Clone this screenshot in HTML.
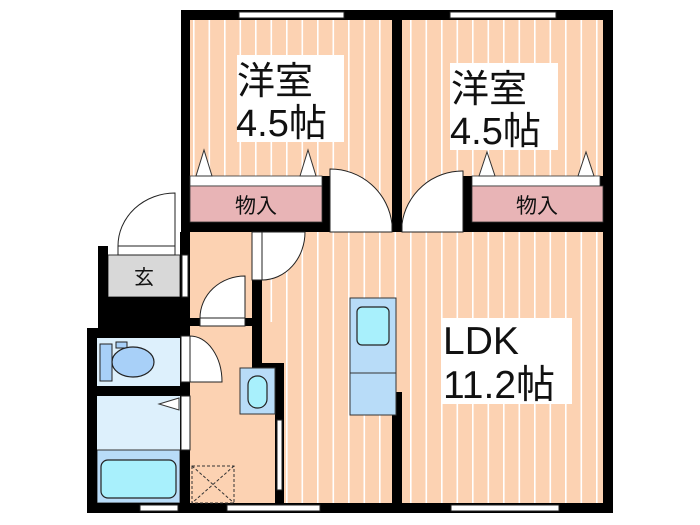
<!DOCTYPE html>
<html><head><meta charset="utf-8"><style>
html,body{margin:0;padding:0;background:#fff;width:700px;height:525px;overflow:hidden}
svg{display:block}
text{font-family:"Liberation Sans","Noto Sans CJK JP",sans-serif;fill:#111}
</style></head><body>
<svg width="700" height="525" viewBox="0 0 700 525" xmlns="http://www.w3.org/2000/svg">
<defs>
<pattern id="fl" width="15.5" height="10" patternUnits="userSpaceOnUse">
<rect width="15.5" height="10" fill="#fcd2b2"/><rect x="7" width="1.6" height="10" fill="#fff"/>
</pattern>
</defs>
<rect x="190" y="20" width="202" height="212" fill="url(#fl)"/>
<rect x="402" y="20" width="201" height="212" fill="url(#fl)"/>
<rect x="262" y="232" width="341" height="271" fill="url(#fl)"/>
<rect x="190" y="232" width="62" height="90" fill="#fcd2b2"/>
<rect x="190" y="322" width="85" height="181" fill="#fcd2b2"/>
<rect x="108" y="255" width="72" height="42" fill="#d8d8d8" stroke="#333" stroke-width="1"/>
<rect x="97" y="338" width="83" height="48" fill="#ddf0fc"/>
<rect x="97" y="396" width="83" height="54" fill="#ddf0fc"/>
<rect x="97" y="450" width="83" height="53" fill="#b8dcf8" stroke="#333" stroke-width="1"/>
<rect x="101" y="460" width="75" height="38" rx="7" fill="#a8f0fc" stroke="#222" stroke-width="1.2"/>
<rect x="100" y="344" width="12" height="37" fill="#a8d0f8" stroke="#222" stroke-width="1"/>
<rect x="116" y="342" width="11" height="6" fill="#a8d0f8" stroke="#222" stroke-width="1"/>
<ellipse cx="133" cy="362" rx="21" ry="15" fill="#a8d0f8" stroke="#222" stroke-width="1.2"/>
<polygon points="179,398 159,404 179,410" fill="#fff" stroke="#333" stroke-width="1"/>
<g fill="#000">
<rect x="181" y="10" width="432" height="10"/>
<rect x="181" y="10" width="9" height="222"/>
<rect x="392" y="10" width="10" height="222"/>
<rect x="603" y="10" width="10" height="503"/>
<rect x="181" y="222" width="149" height="10"/>
<rect x="463" y="222" width="150" height="10"/>
<rect x="322" y="176" width="8" height="56"/>
<rect x="463" y="176" width="9" height="56"/>
<rect x="600" y="176" width="8" height="56"/>
<rect x="98" y="246" width="10" height="84"/>
<rect x="98" y="297" width="92" height="33"/>
<rect x="87" y="328" width="103" height="10"/>
<rect x="87" y="328" width="10" height="185"/>
<rect x="87" y="503" width="526" height="10"/>
<rect x="97" y="386" width="93" height="10"/>
<rect x="180" y="232" width="10" height="271"/>
<rect x="190" y="318" width="72" height="8"/>
<rect x="252" y="280" width="10" height="92"/>
<rect x="252" y="363" width="32" height="9"/>
<rect x="275" y="363" width="9" height="140"/>
<rect x="392" y="392" width="10" height="111"/>
</g>
<rect x="190" y="176" width="132" height="10" fill="#fff" stroke="#333" stroke-width="0.8"/>
<rect x="190" y="186" width="132" height="36" fill="#e8b4b6" stroke="#333" stroke-width="0.8"/>
<rect x="472" y="176" width="128" height="10" fill="#fff" stroke="#333" stroke-width="0.8"/>
<rect x="472" y="186" width="131" height="36" fill="#e8b4b6" stroke="#333" stroke-width="0.8"/>
<g fill="#fff" stroke="#333" stroke-width="1">
<polygon points="196,176 204,150 212,176"/><polygon points="300,176 308,150 316,176"/>
<polygon points="479,176 487,152 495,176"/><polygon points="578,176 586,152 594,176"/>
</g>
<text x="256" y="213" font-size="21" text-anchor="middle">物入</text>
<text x="537" y="213" font-size="21" text-anchor="middle">物入</text>
<text x="144" y="284" font-size="20" text-anchor="middle">玄</text>
<g fill="#fff" stroke="#222" stroke-width="1">
<rect x="330" y="224" width="62" height="8"/>
<path d="M330,232 V169 A62,62 0 0 1 392,224 V232 Z"/>
<rect x="402" y="224" width="61" height="8"/>
<path d="M463,232 V171 A61,61 0 0 0 402,224 V232 Z"/>
<rect x="118" y="246" width="57" height="9"/>
<path d="M118,246 A57,53 0 0 1 175,193 V246 Z"/>
<rect x="252" y="232" width="10" height="48"/>
<path d="M262,232 H305 A43,48 0 0 1 262,280 Z"/>
<rect x="200" y="318" width="45" height="8"/>
<path d="M200,318 A45,42 0 0 1 245,276 V318 Z"/>
<rect x="181" y="336" width="9" height="46"/>
<path d="M190,336 A32,46 0 0 1 222,382 H190 Z"/>
<rect x="181" y="396" width="9" height="54"/>
<rect x="239" y="12" width="105" height="6"/>
<rect x="450" y="12" width="106" height="6"/>
<rect x="140" y="505" width="38" height="6"/>
<rect x="227" y="505" width="93" height="6"/>
<rect x="451" y="505" width="108" height="6"/>
<rect x="277" y="420" width="5" height="70"/>
<rect x="182" y="255" width="6" height="42"/>
</g>
<rect x="350" y="298" width="46" height="117" fill="#b8dcf8" stroke="#333" stroke-width="1"/>
<line x1="350" y1="373" x2="396" y2="373" stroke="#333"/>
<rect x="357" y="307" width="32" height="38" rx="5" fill="#a8f0fc" stroke="#222" stroke-width="1.2"/>
<rect x="240" y="368" width="35" height="46" fill="#b8dcf8" stroke="#333" stroke-width="1"/>
<rect x="248" y="376" width="19" height="32" rx="9" fill="#a8f0fc" stroke="#222" stroke-width="1.2"/>
<g stroke="#333" stroke-width="1" stroke-dasharray="3,2" fill="none">
<rect x="192" y="466" width="42" height="37"/><line x1="192" y1="466" x2="234" y2="503"/><line x1="234" y1="466" x2="192" y2="503"/>
</g>
<rect x="237" y="55" width="107" height="87" fill="#fff"/>
<rect x="450" y="63" width="108" height="87" fill="#fff"/>
<rect x="442" y="318" width="130" height="86" fill="#fff"/>
<text x="237" y="94" font-size="38">洋室</text>
<text x="236" y="136" font-size="38">4.5帖</text>
<text x="451" y="102" font-size="38">洋室</text>
<text x="450" y="144" font-size="38">4.5帖</text>
<text x="443" y="354" font-size="39">LDK</text>
<text x="443" y="398" font-size="39">11.2帖</text>
</svg>
</body></html>
